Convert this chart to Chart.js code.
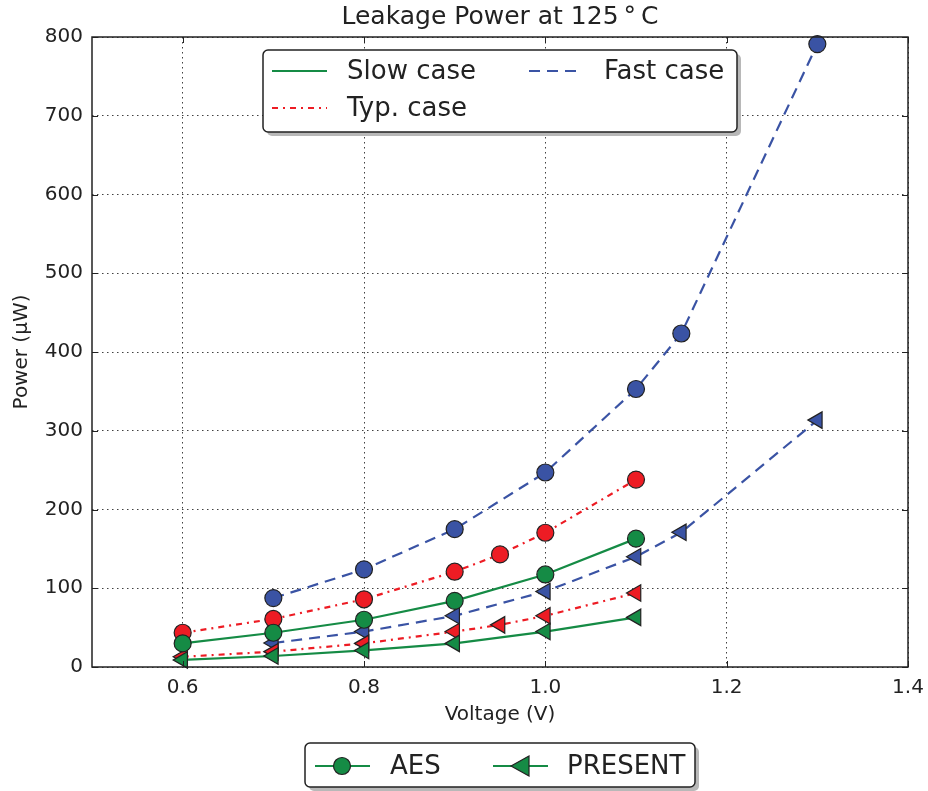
<!DOCTYPE html>
<html>
<head>
<meta charset="utf-8">
<script src="https://cdn.jsdelivr.net/npm/chart.js@4.4.1/dist/chart.umd.min.js"></script>
<style>
    html, body { margin: 0; padding: 0; background: #fff; }
    #wrap { width: 928px; height: 791px; }
</style>
</head>
<body>
<div id="wrap"><canvas id="leakChart" width="928" height="791"></canvas></div>
<script>
// voltages (V) per corner
const slowV = [0.6, 0.7, 0.8, 0.9, 1.0, 1.1];
const typV = [0.6, 0.7, 0.8, 0.9, 0.95, 1.0, 1.1];
const fastV = [0.7, 0.8, 0.9, 1.0, 1.1, 1.15, 1.3];

// leakage power (uW)
const slowAes = [30, 43.5, 60, 84, 117.5, 163];
const slowPresent = [9, 14, 21, 30, 45, 63];
const typAes = [43.5, 61, 86, 121, 143, 170.5, 238];
const typPresent = [13, 19.5, 30, 45, 53.5, 65, 94];
const fastAes = [87.5, 124, 175, 247, 353, 423.5, 791];
const fastPresent = [30.5, 45, 65, 96, 140, 171, 313.5];

const xTicks = [0.6, 0.8, 1.0, 1.2, 1.4];
const yTicks = [0, 100, 200, 300, 400, 500, 600, 700, 800];

const cornerNames = ['Slow case', 'Typ. case', 'Fast case'];
const designNames = ['AES', 'PRESENT'];

const GREEN = '#158b45';
const RED = '#ed1c24';
const BLUE = '#3a53a4';
const INK = '#222222';
const FONT = "'DejaVu Sans', sans-serif";

const cornerStyle = [
    { color: GREEN, dash: [] },
    { color: RED, dash: [6, 5, 2, 5] },
    { color: BLUE, dash: [11, 7] }
];

function pts(xs, ys) {
    return xs.map((x, i) => ({ x: x, y: ys[i] }));
}

function makeSet(corner, design, xs, ys) {
    const st = cornerStyle[corner];
    const tri = design === 1;
    return {
        label: cornerNames[corner] + ' / ' + designNames[design],
        data: pts(xs, ys),
        showLine: true,
        borderColor: st.color,
        borderWidth: 2.2,
        borderDash: st.dash,
        backgroundColor: st.color,
        pointBackgroundColor: st.color,
        pointBorderColor: INK,
        pointBorderWidth: 1.2,
        pointStyle: tri ? 'triangle' : 'circle',
        pointRotation: tri ? -90 : 0,
        pointRadius: tri ? 9.5 : 8.5,
        pointHoverRadius: tri ? 9.5 : 8.5,
        clip: false
    };
}

// frame, inward ticks, title and both legends
const decor = {
    id: 'decor',
    afterDraw(chart) {
        const c = chart.ctx;
        const a = chart.chartArea;
        const xs = chart.scales.x, ys = chart.scales.y;
        c.save();

        c.strokeStyle = INK;
        c.lineWidth = 1.5;
        c.setLineDash([]);
        c.strokeRect(a.left, a.top, a.right - a.left, a.bottom - a.top);

        c.lineWidth = 1;
        c.beginPath();
        xTicks.forEach(v => {
            const px = Math.round(xs.getPixelForValue(v)) + 0.5;
            c.moveTo(px, a.bottom); c.lineTo(px, a.bottom - 6);
            c.moveTo(px, a.top); c.lineTo(px, a.top + 6);
        });
        yTicks.forEach(v => {
            const py = Math.round(ys.getPixelForValue(v)) + 0.5;
            c.moveTo(a.left, py); c.lineTo(a.left + 6, py);
            c.moveTo(a.right, py); c.lineTo(a.right - 6, py);
        });
        c.stroke();

        // title
        c.fillStyle = INK;
        c.font = '25px ' + FONT;
        c.textAlign = 'center';
        c.textBaseline = 'middle';
        c.fillText('Leakage Power at 125\u2009\u00b0\u2009C', (a.left + a.right) / 2, 17);

        function box(x, y, w, h) {
            c.fillStyle = '#b8b8b8';
            c.beginPath(); c.roundRect(x + 4, y + 4, w, h, 5); c.fill();
            c.fillStyle = '#ffffff';
            c.strokeStyle = INK;
            c.lineWidth = 1.5;
            c.setLineDash([]);
            c.beginPath(); c.roundRect(x, y, w, h, 5); c.fill(); c.stroke();
        }

        function sample(x1, x2, y, st) {
            c.strokeStyle = st.color;
            c.lineWidth = 2.2;
            c.setLineDash(st.dash);
            c.beginPath(); c.moveTo(x1, y); c.lineTo(x2, y); c.stroke();
            c.setLineDash([]);
        }

        function label(t, x, y) {
            c.fillStyle = INK;
            c.font = '26px ' + FONT;
            c.textAlign = 'left';
            c.textBaseline = 'middle';
            c.fillText(t, x, y);
        }

        // corner legend (inside the plot)
        box(263, 50, 474, 82);
        sample(272, 327, 71, cornerStyle[0]);
        label(cornerNames[0], 347, 72);
        sample(272, 327, 108, cornerStyle[1]);
        label(cornerNames[1], 347, 109);
        sample(529, 583, 71, cornerStyle[2]);
        label(cornerNames[2], 604, 72);

        // design legend (below the plot)
        box(305, 743, 390, 44);
        sample(315, 370, 766, cornerStyle[0]);
        c.fillStyle = GREEN; c.strokeStyle = INK; c.lineWidth = 1.2;
        c.beginPath(); c.arc(342, 766, 8.5, 0, Math.PI * 2); c.fill(); c.stroke();
        label(designNames[0], 390, 767);
        sample(493, 548, 766, cornerStyle[0]);
        c.fillStyle = GREEN; c.strokeStyle = INK; c.lineWidth = 1.2;
        c.beginPath();
        c.moveTo(511, 766); c.lineTo(529, 756); c.lineTo(529, 776); c.closePath();
        c.fill(); c.stroke();
        label(designNames[1], 567, 767);

        c.restore();
    }
};

new Chart(document.getElementById('leakChart'), {
    type: 'scatter',
    data: {
        datasets: [
            makeSet(0, 0, slowV, slowAes),
            makeSet(0, 1, slowV, slowPresent),
            makeSet(1, 0, typV, typAes),
            makeSet(1, 1, typV, typPresent),
            makeSet(2, 0, fastV, fastAes),
            makeSet(2, 1, fastV, fastPresent)
        ]
    },
    options: {
        responsive: false,
        animation: false,
        layout: { padding: { top: 37, right: 20, left: 0, bottom: 0 } },
        plugins: {
            legend: { display: false },
            tooltip: { enabled: false }
        },
        scales: {
            x: {
                type: 'linear',
                min: 0.5,
                max: 1.4,
                afterBuildTicks: s => { s.ticks = xTicks.map(v => ({ value: v })); },
                afterFit: s => {
                    s.height = 124;
                    s.paddingLeft = 0;
                    s.paddingRight = 0;
                },
                ticks: {
                    color: INK,
                    padding: 9,
                    font: { family: FONT, size: 20 },
                    callback: v => v.toFixed(1)
                },
                grid: {
                    color: 'rgba(0, 0, 0, 0.75)',
                    lineWidth: 1,
                    drawTicks: false
                },
                border: { display: false, dash: [1.5, 3.5] },
                title: {
                    display: true,
                    text: 'Voltage (V)',
                    color: INK,
                    font: { family: FONT, size: 20 },
                    padding: { top: 0, bottom: 64 }
                }
            },
            y: {
                min: 0,
                max: 800,
                afterBuildTicks: s => { s.ticks = yTicks.map(v => ({ value: v })); },
                afterFit: s => {
                    s.width = 92;
                    s.paddingTop = 0;
                    s.paddingBottom = 0;
                },
                ticks: {
                    color: INK,
                    padding: 9,
                    font: { family: FONT, size: 20 }
                },
                grid: {
                    color: 'rgba(0, 0, 0, 0.75)',
                    lineWidth: 1,
                    drawTicks: false
                },
                border: { display: false, dash: [1.5, 3.5] },
                title: {
                    display: true,
                    text: 'Power (\u03bcW)',
                    color: INK,
                    font: { family: FONT, size: 20 },
                    padding: { top: 10, bottom: 0 }
                }
            }
        }
    },
    plugins: [decor]
});
</script>
</body>
</html>
